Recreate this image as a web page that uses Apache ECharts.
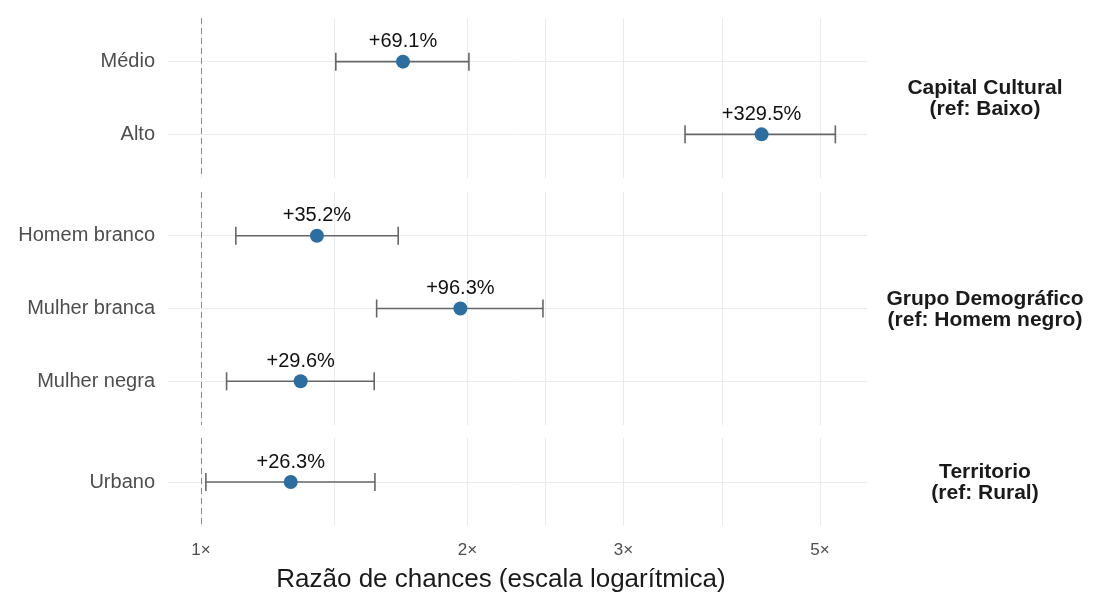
<!DOCTYPE html>
<html>
<head>
<meta charset="utf-8">
<script src="https://cdn.jsdelivr.net/npm/echarts@6/dist/echarts.min.js"></script>
<style>
  html, body { margin: 0; padding: 0; background: #ffffff; }
  #chart { width: 1096px; height: 597px; }
</style>
</head>
<body>
<div id="chart"></div>
<script>
// Odds ratios with 95% confidence intervals, one panel per variable group
const capCats = ['Médio', 'Alto'];
const capOR   = [1.691, 4.295];
const capLo   = [1.420, 3.520];
const capHi   = [2.007, 5.203];

const demCats = ['Homem branco', 'Mulher branca', 'Mulher negra'];
const demOR   = [1.352, 1.963, 1.296];
const demLo   = [1.095, 1.579, 1.069];
const demHi   = [1.670, 2.433, 1.569];

const terCats = ['Urbano'];
const terOR   = [1.263];
const terLo   = [1.013];
const terHi   = [1.572];

const panelTitles = [
  'Capital Cultural\n(ref: Baixo)',
  'Grupo Demográfico\n(ref: Homem negro)',
  'Territorio\n(ref: Rural)'
];
const xTitle = 'Razão de chances (escala logarítmica)';

// x-axis breaks (log scale) and the minor gridlines between them
const xBreaks = [1, 2, 3, 5];
const xMinor  = [Math.sqrt(2), Math.sqrt(6), Math.sqrt(15)];

const FONT = '"Liberation Sans", Arial, sans-serif';
const POINT = '#2c6ea0';
const BAR = '#666666';
const GRID_C = '#ebebeb';

const panels = [
  { cats: capCats, or: capOR, lo: capLo, hi: capHi, top: 18, height: 160 },
  { cats: demCats, or: demOR, lo: demLo, hi: demHi, top: 192, height: 233 },
  { cats: terCats, or: terOR, lo: terLo, hi: terHi, top: 438, height: 88 }
];

const X_MIN = 0.918, X_MAX = 5.649;
const gridLeft = 168, gridRight = 1096 - 867;

const grids = [], xAxes = [], yAxes = [], series = [], graphics = [];

panels.forEach((p, i) => {
  const last = i === panels.length - 1;
  const idx = p.cats.map((_, k) => k);
  grids.push({ left: gridLeft, right: gridRight, top: p.top, height: p.height });

  xAxes.push({
    type: 'log', logBase: 10, gridIndex: i, min: X_MIN, max: X_MAX,
    axisLine: { show: false },
    axisTick: { show: false, customValues: xBreaks.concat(xMinor) },
    splitLine: { show: true, lineStyle: { color: GRID_C, width: 1 } },
    axisLabel: {
      show: last, customValues: xBreaks, margin: 16,
      color: '#4d4d4d', fontSize: 17, fontFamily: FONT,
      formatter: v => Math.round(v) + '×'
    }
  });

  yAxes.push({
    type: 'value', gridIndex: i, inverse: true,
    min: -0.6, max: p.cats.length - 0.4,
    axisLine: { show: false },
    axisTick: { show: false, customValues: idx },
    splitLine: { show: true, lineStyle: { color: GRID_C, width: 1 } },
    axisLabel: {
      customValues: idx, margin: 13,
      color: '#4d4d4d', fontSize: 20, fontFamily: FONT,
      formatter: v => p.cats[Math.round(v)]
    }
  });

  // horizontal confidence-interval bars with end caps
  series.push({
    type: 'custom', xAxisIndex: i, yAxisIndex: i, silent: true, z: 3,
    data: idx.map(k => [p.lo[k], p.hi[k], k]),
    renderItem: (params, api) => {
      const a = api.coord([api.value(0), api.value(2)]);
      const b = api.coord([api.value(1), api.value(2)]);
      const cap = 9;
      const style = { stroke: BAR, lineWidth: 1.6 };
      return {
        type: 'group',
        children: [
          { type: 'line', shape: { x1: a[0], y1: a[1], x2: b[0], y2: b[1] }, style },
          { type: 'line', shape: { x1: a[0], y1: a[1] - cap, x2: a[0], y2: a[1] + cap }, style },
          { type: 'line', shape: { x1: b[0], y1: b[1] - cap, x2: b[0], y2: b[1] + cap }, style }
        ]
      };
    },
    markLine: {
      silent: true, symbol: 'none',
      label: { show: false },
      lineStyle: { color: '#8c8c8c', type: [6, 4], width: 1 },
      data: [{ xAxis: 1 }]
    }
  });

  // point estimates labelled with the percentage change in odds
  series.push({
    type: 'scatter', xAxisIndex: i, yAxisIndex: i, z: 4,
    symbol: 'circle', symbolSize: 14,
    itemStyle: { color: POINT, opacity: 1 },
    data: idx.map(k => [p.or[k], k]),
    label: {
      show: true, position: 'top', distance: 3,
      color: '#111111', fontSize: 20, fontFamily: FONT,
      formatter: d => '+' + ((d.value[0] - 1) * 100).toFixed(1) + '%'
    }
  });

  // facet strip label on the right of each panel
  graphics.push({
    type: 'text', x: 985, y: p.top + p.height / 2 + 1,
    style: {
      text: panelTitles[i], align: 'center', verticalAlign: 'middle',
      fill: '#1a1a1a', font: 'bold 21px ' + FONT, lineHeight: 21
    }
  });
});

// x-axis title under the bottom panel
graphics.push({
  type: 'text', x: 501, y: 580,
  style: {
    text: xTitle, align: 'center', verticalAlign: 'middle',
    fill: '#1a1a1a', font: '26px ' + FONT
  }
});

const chart = echarts.init(document.getElementById('chart'), null, { renderer: 'canvas' });
chart.setOption({
  backgroundColor: '#ffffff',
  animation: false,
  grid: grids,
  xAxis: xAxes,
  yAxis: yAxes,
  series: series,
  graphic: graphics
});
</script>
</body>
</html>
